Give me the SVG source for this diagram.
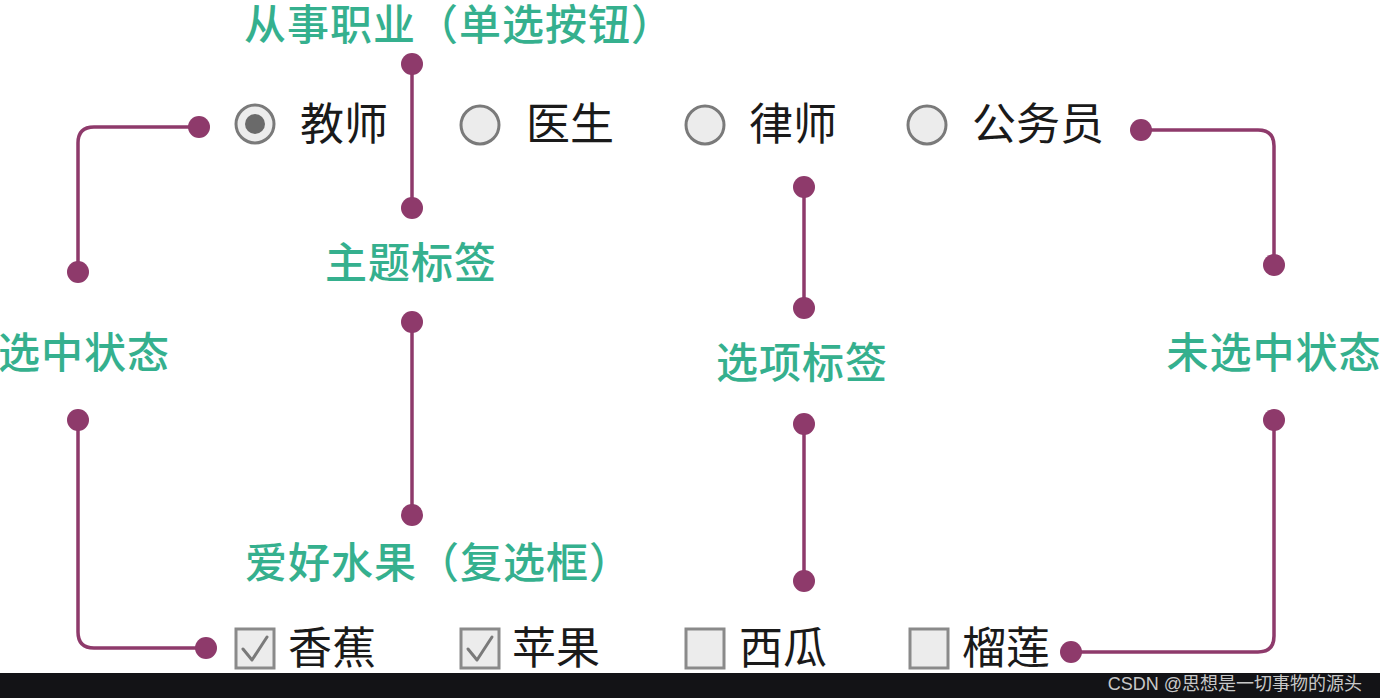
<svg xmlns="http://www.w3.org/2000/svg" width="1380" height="698" viewBox="0 0 1380 698">
<style>
.lbl{font-family:"Noto Sans CJK SC",sans-serif;font-size:42px;letter-spacing:1px;fill:#35b08e;font-weight:500}
.opt{font-family:"Noto Sans CJK SC",sans-serif;font-size:44px;fill:#1a1a1a}
.radio{fill:#ececec;stroke:#7a7a7a;stroke-width:3}
.box{fill:#ececec;stroke:#8a8a8a;stroke-width:3}
.chk{fill:none;stroke:#7a7a7a;stroke-width:3;stroke-linecap:round;stroke-linejoin:round}
.ln{fill:none;stroke:#8e3a6b;stroke-width:3.5}
.dot{fill:#8e3a6b}
</style>
<rect width="1380" height="698" fill="#ffffff"/>
<g id="connectors">
<path class="ln" d="M412 64V208"/>
<path class="ln" d="M199 127H94Q78 127 78 143V272"/>
<path class="ln" d="M78 420V632Q78 648 94 648H206"/>
<path class="ln" d="M412 322V515"/>
<path class="ln" d="M804 187V308"/>
<path class="ln" d="M804 424V581"/>
<path class="ln" d="M1141 130H1258Q1274 130 1274 146V265"/>
<path class="ln" d="M1274 420V636Q1274 652 1258 652H1071"/>
<g class="dot">
<circle cx="412" cy="64" r="11"/><circle cx="412" cy="208" r="11"/>
<circle cx="199" cy="127" r="11"/><circle cx="78" cy="272" r="11"/>
<circle cx="78" cy="420" r="11"/><circle cx="206" cy="648" r="11"/>
<circle cx="412" cy="322" r="11"/><circle cx="412" cy="515" r="11"/>
<circle cx="804" cy="187" r="11"/><circle cx="804" cy="308" r="11"/>
<circle cx="804" cy="424" r="11"/><circle cx="804" cy="581" r="11"/>
<circle cx="1141" cy="130" r="11"/><circle cx="1274" cy="265" r="11"/>
<circle cx="1274" cy="420" r="11"/><circle cx="1071" cy="652" r="11"/>
</g>
</g>
<g id="label-occupation"><text class="lbl" x="244" y="40">从事职业（单选按钮）</text></g>
<g id="label-theme"><text class="lbl" x="411" y="278" text-anchor="middle">主题标签</text></g>
<g id="label-checked"><text class="lbl" x="84" y="368" text-anchor="middle">选中状态</text></g>
<g id="label-option"><text class="lbl" x="802" y="378" text-anchor="middle">选项标签</text></g>
<g id="label-unchecked"><text class="lbl" x="1274" y="368" text-anchor="middle">未选中状态</text></g>
<g id="label-fruit"><text class="lbl" x="245" y="578">爱好水果（复选框）</text></g>
<g id="radio-teacher"><circle class="radio" cx="255" cy="124" r="19"/><circle cx="255" cy="124" r="10" fill="#6a6a6a"/><text class="opt" x="300" y="140">教师</text></g>
<g id="radio-doctor"><circle class="radio" cx="480" cy="125" r="19"/><text class="opt" x="526" y="140">医生</text></g>
<g id="radio-lawyer"><circle class="radio" cx="705" cy="125" r="19"/><text class="opt" x="749" y="140">律师</text></g>
<g id="radio-civil"><circle class="radio" cx="927" cy="125" r="19"/><text class="opt" x="972" y="140">公务员</text></g>
<g id="cb-banana"><rect class="box" x="236" y="629" width="38" height="39"/><path class="chk" d="M243 649L252 660L267 637"/><text class="opt" x="288" y="664">香蕉</text></g>
<g id="cb-apple"><rect class="box" x="461" y="629" width="38" height="39"/><path class="chk" d="M468 649L477 660L492 637"/><text class="opt" x="512" y="664">苹果</text></g>
<g id="cb-melon"><rect class="box" x="686" y="629" width="38" height="39"/><text class="opt" x="739" y="664">西瓜</text></g>
<g id="cb-durian"><rect class="box" x="910" y="629" width="38" height="39"/><text class="opt" x="962" y="664">榴莲</text></g>
<rect x="0" y="673" width="1380" height="25" fill="#131316"/>
<text x="1362" y="685" font-family="'Liberation Sans','Noto Sans CJK SC',sans-serif" font-size="18" fill="#c8c8c8" text-anchor="end" dominant-baseline="middle">CSDN @思想是一切事物的源头</text>
</svg>
